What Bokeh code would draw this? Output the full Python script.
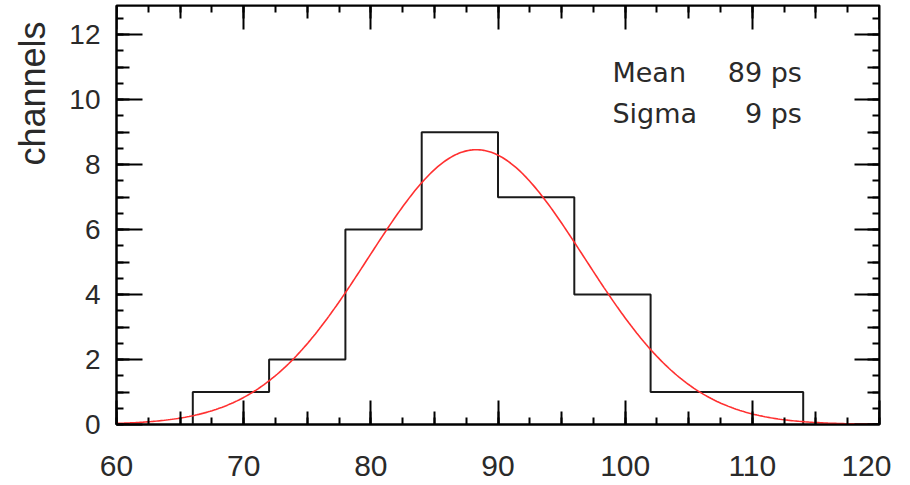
import numpy as np
from bokeh.plotting import figure
from bokeh.models import LinearAxis, FixedTicker, Label, Range1d, Title
from bokeh.embed import file_html
from bokeh.resources import INLINE

# ---- data ----
bin_edges = [66, 72, 78, 84, 90, 96, 102, 108, 114]
counts = [1, 2, 6, 9, 7, 4, 1, 1]
fit_mean = 88.3
fit_sigma = 8.5
fit_amp = 8.46
stat_names = ["Mean", "Sigma"]
stat_values = ["89 ps", "9 ps"]
y_title = "channels"

x_major = [60, 70, 80, 90, 100, 110, 120]
x_mid = [60, 65, 70, 75, 80, 85, 90, 95, 100, 105, 110, 115, 120]
x_minor = [60 + 2.5 * i for i in range(25)]
y_major = [0, 2, 4, 6, 8, 10, 12]
y_mid = list(range(0, 13))
y_minor = [0.5 * i for i in range(26)]

X0, X1 = 60, 120
Y0, Y1 = 0, 12.9

# ---- figure ----
p = figure(x_range=Range1d(X0, X1), y_range=Range1d(Y0, Y1),
           frame_width=763, frame_height=419,
           min_border_left=116, min_border_right=12,
           min_border_top=5, min_border_bottom=58,
           output_backend="svg", toolbar_location=None)
p.grid.visible = False
p.outline_line_color = "black"
p.outline_line_width = 2
p.background_fill_color = "white"
p.border_fill_color = "white"

TICK_FONT = "Liberation Sans"


def style(ax, major_in, minor_in, labels=False, size="28px", standoff=16, line=True):
    ax.axis_line_color = "black" if line else None
    ax.axis_line_width = 2
    ax.major_tick_line_color = "black"
    ax.major_tick_line_width = 2
    ax.minor_tick_line_color = "black"
    ax.minor_tick_line_width = 2
    ax.major_tick_in = major_in
    ax.major_tick_out = 0
    ax.minor_tick_in = minor_in
    ax.minor_tick_out = 0
    if labels:
        ax.major_label_text_font = TICK_FONT
        ax.major_label_text_font_size = size
        ax.major_label_text_color = "#2a2a2a"
        ax.major_label_standoff = standoff
    else:
        ax.major_label_text_color = None
        ax.major_label_text_font_size = "0px"


# bottom axis
xb = p.xaxis[0]
xb.ticker = FixedTicker(ticks=x_major, minor_ticks=x_minor)
style(xb, 24, 7, labels=True, size="30px", standoff=31)
xb_mid = LinearAxis(fixed_location=Y0, ticker=FixedTicker(ticks=x_mid, minor_ticks=[]))
xb_mid.major_label_overrides = {t: "" for t in x_mid}
style(xb_mid, 13, 0, line=False)
p.add_layout(xb_mid, "below")

# top axis
xt = LinearAxis(fixed_location=Y1, ticker=FixedTicker(ticks=x_major, minor_ticks=x_minor))
xt.major_label_overrides = {t: "" for t in x_major}
style(xt, 24, 7)
p.add_layout(xt, "above")
xt_mid = LinearAxis(fixed_location=Y1, ticker=FixedTicker(ticks=x_mid, minor_ticks=[]))
xt_mid.major_label_overrides = {t: "" for t in x_mid}
style(xt_mid, 13, 0, line=False)
p.add_layout(xt_mid, "above")

# left axis
yl = p.yaxis[0]
yl.ticker = FixedTicker(ticks=y_major, minor_ticks=y_minor)
style(yl, 26, 7, labels=True, size="28px", standoff=16)
yl_mid = LinearAxis(fixed_location=X0, ticker=FixedTicker(ticks=y_mid, minor_ticks=[]))
yl_mid.major_label_overrides = {t: "" for t in y_mid}
style(yl_mid, 13, 0, line=False)
p.add_layout(yl_mid, "left")

# right axis
yr = LinearAxis(fixed_location=X1, ticker=FixedTicker(ticks=y_major, minor_ticks=y_minor))
yr.major_label_overrides = {t: "" for t in y_major}
style(yr, 25, 7)
p.add_layout(yr, "right")
yr_mid = LinearAxis(fixed_location=X1, ticker=FixedTicker(ticks=y_mid, minor_ticks=[]))
yr_mid.major_label_overrides = {t: "" for t in y_mid}
style(yr_mid, 12, 0, line=False)
p.add_layout(yr_mid, "right")

# ---- histogram (step outline) ----
step_x = [bin_edges[0]] + list(bin_edges)
step_y = [0] + list(counts) + [0]
p.step(step_x, step_y, mode="after", line_color="#1a1a1a", line_width=2)

# ---- gaussian fit ----
fx = np.linspace(X0, X1, 400)
fy = fit_amp * np.exp(-0.5 * ((fx - fit_mean) / fit_sigma) ** 2)
p.line(fx, fy, line_color="#ff3030", line_width=1.6)

# ---- stats box text ----
stat_y = [10.85, 9.59]
for name, val, yy in zip(stat_names, stat_values, stat_y):
    p.add_layout(Label(x=99.0, y=yy, text=name, text_font="DejaVu Sans",
                       text_font_size="27px", text_color="#2a2a2a",
                       text_align="left", text_baseline="alphabetic"))
    p.add_layout(Label(x=113.9, y=yy, text=val, text_font="DejaVu Sans",
                       text_font_size="27px", text_color="#2a2a2a",
                       text_align="right", text_baseline="alphabetic"))

# ---- y title at the top end of the left side ----
ttl = Title(text=y_title, align="right", vertical_align="top", offset=16, standoff=23,
            text_font=TICK_FONT, text_font_size="36px",
            text_font_style="normal", text_color="#2a2a2a")
p.add_layout(ttl, "left")

open("out.html", "w").write(file_html(p, INLINE))
